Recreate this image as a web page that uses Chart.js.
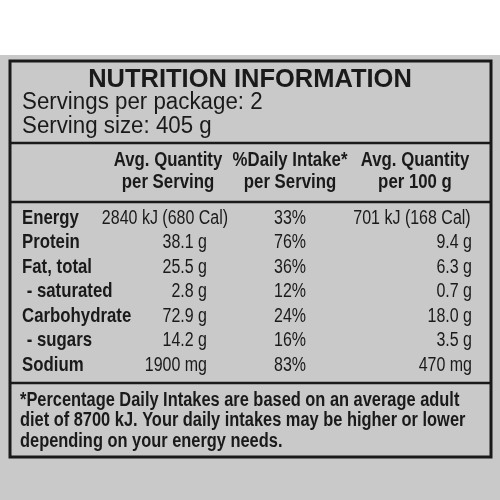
<!DOCTYPE html><html><head><script src="https://cdn.jsdelivr.net/npm/chart.js@4"></script>
<style>html,body{margin:0;background:#fff}#w{width:500px;height:500px}</style></head><body><div id="w"><canvas id="c"></canvas></div>
<script>
const nutrients=["Energy","Protein","Fat, total"," - saturated","Carbohydrate"," - sugars","Sodium"];
const perServing=["2840 kJ (680 Cal)","38.1 g","25.5 g","2.8 g","72.9 g","14.2 g","1900 mg"];
const dailyIntake=["33%","76%","36%","12%","24%","16%","83%"];
const per100g=["701 kJ (168 Cal)","9.4 g","6.3 g","0.7 g","18.0 g","3.5 g","470 mg"];
const headers=[["Avg. Quantity","per Serving"],["%Daily Intake*","per Serving"],["Avg. Quantity","per 100 g"]];
const footnote=["*Percentage Daily Intakes are based on an average adult","diet of 8700 kJ. Your daily intakes may be higher or lower","depending on your energy needs."];
const F='"Liberation Sans",Arial,sans-serif';
const N=0.8;
function txt(ctx,s,x,y,font,align,sx){ctx.save();ctx.font=font;ctx.textAlign=align||'left';ctx.textBaseline='middle';ctx.translate(x,y);ctx.scale(sx||1,1);ctx.fillText(s,0,0);ctx.restore();}
const plug={id:'label',beforeDraw(ch){const c=ch.ctx;c.save();
c.fillStyle='#fff';c.fillRect(0,0,500,500);
c.fillStyle='#c9c9c9';c.fillRect(0,55,500,445);
c.strokeStyle='#1a1a1a';c.lineWidth=3;c.strokeRect(10,61,481,396);
c.lineWidth=2.5;[143,202,383].forEach(y=>{c.beginPath();c.moveTo(10,y);c.lineTo(491,y);c.stroke();});
c.fillStyle='#1a1a1a';
txt(c,"NUTRITION INFORMATION",250,80,'bold 26px '+F,'center',0.98);
txt(c,"Servings per package: 2",22,103,'23px '+F,'left',0.97);
txt(c,"Serving size: 405 g",22,127,'23px '+F,'left',0.97);
const cx=[168,290,415];
headers.forEach((h,i)=>{txt(c,h[0],cx[i],160,'bold 21px '+F,'center',N);txt(c,h[1],cx[i],182,'bold 21px '+F,'center',N);});
nutrients.forEach((n,i)=>{const y=218+i*24.5;
txt(c,n,22,y,'bold 21px '+F,'left',N);
txt(c,perServing[i],i==0?165:207,y,'20px '+F,i==0?'center':'right',N);
txt(c,dailyIntake[i],290,y,'20px '+F,'center',N);
txt(c,per100g[i],i==0?412:472,y,'20px '+F,i==0?'center':'right',N);});
footnote.forEach((s,i)=>txt(c,s,20,400+i*20.5,'bold 20px '+F,'left',0.82));
c.restore();}};
new Chart(document.getElementById('c'),{type:'bar',data:{labels:nutrients,datasets:[]},plugins:[plug],
options:{responsive:true,maintainAspectRatio:false,animation:false,plugins:{legend:{display:false},tooltip:{enabled:false}},scales:{x:{display:false},y:{display:false}}}});
</script></body></html>
